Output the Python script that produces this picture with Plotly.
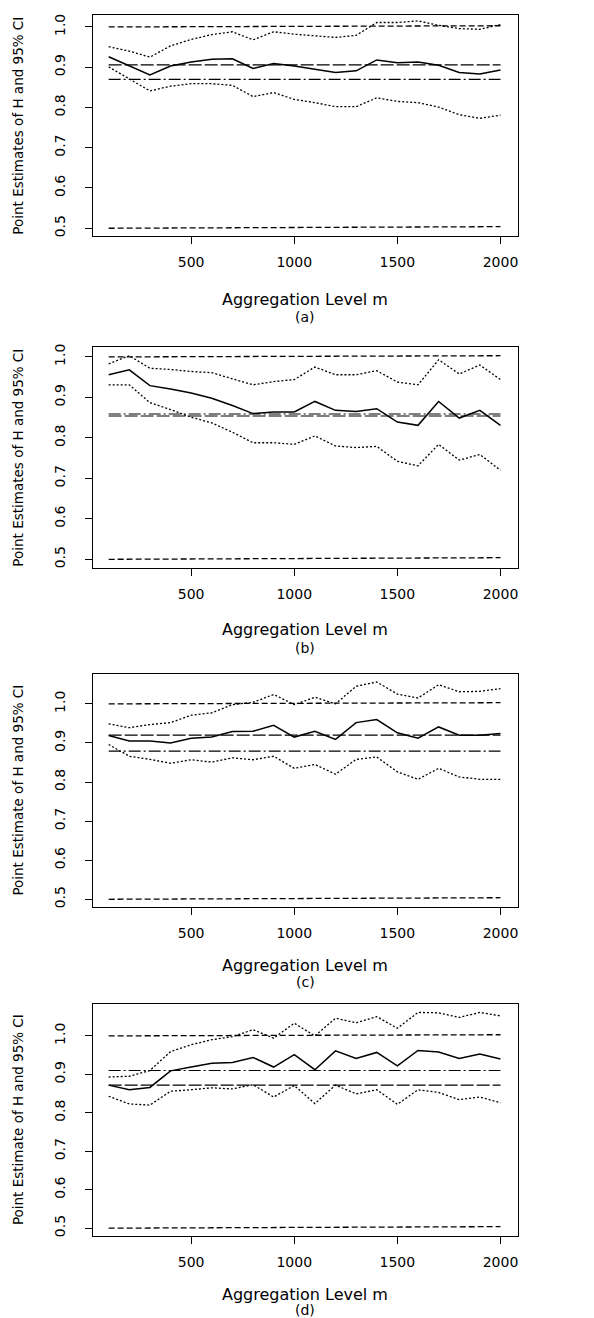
import plotly.graph_objects as go

# ---------------- data ----------------
m = [100, 200, 300, 400, 500, 600, 700, 800, 900, 1000,
     1100, 1200, 1300, 1400, 1500, 1600, 1700, 1800, 1900, 2000]

# panel (a)
h_a = [0.926, 0.903, 0.881, 0.903, 0.913, 0.920, 0.921, 0.897, 0.909, 0.903,
       0.895, 0.887, 0.891, 0.918, 0.911, 0.913, 0.905, 0.887, 0.883, 0.893]
up_a = [0.951, 0.940, 0.925, 0.953, 0.969, 0.981, 0.988, 0.968, 0.988, 0.982,
        0.978, 0.974, 0.979, 1.011, 1.011, 1.015, 1.004, 0.996, 0.994, 1.006]
lo_a = [0.901, 0.870, 0.841, 0.853, 0.859, 0.859, 0.855, 0.827, 0.837, 0.820,
        0.812, 0.802, 0.802, 0.824, 0.815, 0.812, 0.801, 0.782, 0.773, 0.781]
longdash_a = 0.906
dashdot_a = 0.870

# panel (b)
h_b = [0.956, 0.968, 0.929, 0.921, 0.911, 0.898, 0.880, 0.860, 0.864, 0.864,
       0.890, 0.868, 0.865, 0.872, 0.839, 0.831, 0.890, 0.849, 0.868, 0.831]
up_b = [0.983, 1.003, 0.972, 0.969, 0.964, 0.961, 0.946, 0.931, 0.939, 0.944,
        0.975, 0.956, 0.956, 0.966, 0.938, 0.931, 0.993, 0.958, 0.980, 0.944]
lo_b = [0.931, 0.931, 0.887, 0.870, 0.851, 0.837, 0.814, 0.788, 0.788, 0.784,
        0.805, 0.780, 0.776, 0.779, 0.742, 0.731, 0.784, 0.745, 0.759, 0.720]
longdash_b = 0.854
dashdot_b = 0.859

# panel (c)
h_c = [0.919, 0.905, 0.905, 0.900, 0.912, 0.915, 0.929, 0.930, 0.945, 0.915,
       0.930, 0.909, 0.952, 0.960, 0.926, 0.912, 0.941, 0.920, 0.920, 0.924]
up_c = [0.949, 0.939, 0.947, 0.952, 0.971, 0.977, 0.998, 1.004, 1.024, 0.998,
        1.017, 1.000, 1.045, 1.056, 1.025, 1.015, 1.049, 1.031, 1.032, 1.039]
lo_c = [0.896, 0.866, 0.858, 0.848, 0.857, 0.851, 0.862, 0.857, 0.866, 0.835,
        0.845, 0.820, 0.858, 0.864, 0.826, 0.807, 0.835, 0.813, 0.807, 0.807]
longdash_c = 0.920
dashdot_c = 0.879

# panel (d)
h_d = [0.872, 0.860, 0.866, 0.909, 0.919, 0.929, 0.931, 0.944, 0.919, 0.951,
       0.912, 0.961, 0.941, 0.957, 0.922, 0.962, 0.958, 0.941, 0.953, 0.940]
up_d = [0.893, 0.895, 0.910, 0.959, 0.977, 0.990, 0.998, 1.016, 0.994, 1.033,
        1.000, 1.046, 1.034, 1.050, 1.020, 1.061, 1.060, 1.048, 1.061, 1.052]
lo_d = [0.843, 0.823, 0.820, 0.856, 0.860, 0.865, 0.862, 0.873, 0.841, 0.871,
        0.824, 0.872, 0.849, 0.860, 0.822, 0.860, 0.853, 0.834, 0.841, 0.826]
longdash_d = 0.872
dashdot_d = 0.910

# reference bounds (short-dashed lines)
bound_m = [100, 2000]
bound_hi = [1.000, 1.003]
bound_lo = [0.500, 0.504]

y_ticks = [0.5, 0.6, 0.7, 0.8, 0.9, 1.0]
x_ticks = [500, 1000, 1500, 2000]
panel_labels = ["(a)", "(b)", "(c)", "(d)"]
y_titles = ["Point Estimates of H and 95% CI", "Point Estimates of H and 95% CI",
            "Point Estimate of H and 95% CI", "Point Estimate of H and 95% CI"]
x_title = "Aggregation Level m"

panels = [
    (h_a, up_a, lo_a, longdash_a, dashdot_a),
    (h_b, up_b, lo_b, longdash_b, dashdot_b),
    (h_c, up_c, lo_c, longdash_c, dashdot_c),
    (h_d, up_d, lo_d, longdash_d, dashdot_d),
]

# ---------------- layout geometry (page pixels; page body has an 8px margin) ----------------
OFF = 8
W, H = 594 - OFF, 1318 - OFF
left_px, right_px = 93 - OFF, 518 - OFF
box_px = [(12, 234), (345, 567), (673, 907), (1004, 1237)]
y_ranges = [[0.480, 1.0297], [0.4778, 1.0246], [0.4796, 1.0765], [0.479, 1.083]]
x_range = [24, 2085]
xtitle_px = [297, 628, 965, 1295]
label_px = [315, 647, 982, 1311]

FONT = "DejaVu Sans"
fig = go.Figure()
layout = dict(
    width=W, height=H,
    margin=dict(l=0, r=0, t=0, b=0),
    paper_bgcolor="white", plot_bgcolor="white",
    showlegend=False,
    font=dict(family=FONT, color="black"),
)
annotations = []

for i, (h, up, lo, ld, dd) in enumerate(panels):
    n = "" if i == 0 else str(i + 1)
    xa, ya = "x" + n, "y" + n
    top, bot = box_px[i][0] - OFF, box_px[i][1] - OFF
    layout["xaxis" + n] = dict(
        domain=[left_px / W, right_px / W], range=x_range, anchor=ya,
        tickvals=x_ticks, ticks="outside", ticklen=7, tickwidth=1, tickcolor="black",
        ticklabelstandoff=6,
        showline=True, linecolor="black", linewidth=1.2, mirror=True,
        showgrid=False, zeroline=False,
        tickfont=dict(family=FONT, size=14, color="black"),
    )
    layout["yaxis" + n] = dict(
        domain=[1 - bot / H, 1 - top / H], range=y_ranges[i], anchor=xa,
        tickvals=y_ticks, tickformat=".1f", tickangle=-90,
        ticks="outside", ticklen=7, tickwidth=1, tickcolor="black",
        ticklabelstandoff=14,
        showline=True, linecolor="black", linewidth=1.2, mirror=True,
        showgrid=False, zeroline=False,
        tickfont=dict(family=FONT, size=14, color="black"),
    )
    common = dict(xaxis=xa, yaxis=ya, mode="lines", hoverinfo="skip")
    # bounds
    fig.add_trace(go.Scatter(x=bound_m, y=bound_hi, line=dict(color="black", width=1.3, dash="6px,3px"), **common))
    fig.add_trace(go.Scatter(x=bound_m, y=bound_lo, line=dict(color="black", width=1.3, dash="6px,3px"), **common))
    # horizontal reference lines
    fig.add_trace(go.Scatter(x=bound_m, y=[ld, ld], line=dict(color="black", width=1.2, dash="13px,3px"), **common))
    fig.add_trace(go.Scatter(x=bound_m, y=[dd, dd], line=dict(color="black", width=1.2, dash="12px,3px,2px,3px"), **common))
    # CI
    fig.add_trace(go.Scatter(x=m, y=up, line=dict(color="black", width=1.3, dash="2px,2px"), **common))
    fig.add_trace(go.Scatter(x=m, y=lo, line=dict(color="black", width=1.3, dash="2px,2px"), **common))
    # point estimate
    fig.add_trace(go.Scatter(x=m, y=h, line=dict(color="black", width=1.5), **common))

    cx = (left_px + right_px) / 2 / W
    annotations.append(dict(text=x_title, x=cx, y=1 - (xtitle_px[i] - OFF) / H, xref="paper", yref="paper",
                            showarrow=False, xanchor="center", yanchor="middle",
                            font=dict(family=FONT, size=16, color="black")))
    annotations.append(dict(text=panel_labels[i], x=cx, y=1 - (label_px[i] - OFF) / H, xref="paper", yref="paper",
                            showarrow=False, xanchor="center", yanchor="middle",
                            font=dict(family=FONT, size=14, color="black")))
    annotations.append(dict(text=y_titles[i], x=(18 - OFF) / W, y=1 - (top + bot) / 2 / H, xref="paper", yref="paper",
                            showarrow=False, xanchor="center", yanchor="middle", textangle=-90,
                            font=dict(family=FONT, size=13.5, color="black")))

layout["annotations"] = annotations
fig.update_layout(**layout)
fig.write_html("out.html")
